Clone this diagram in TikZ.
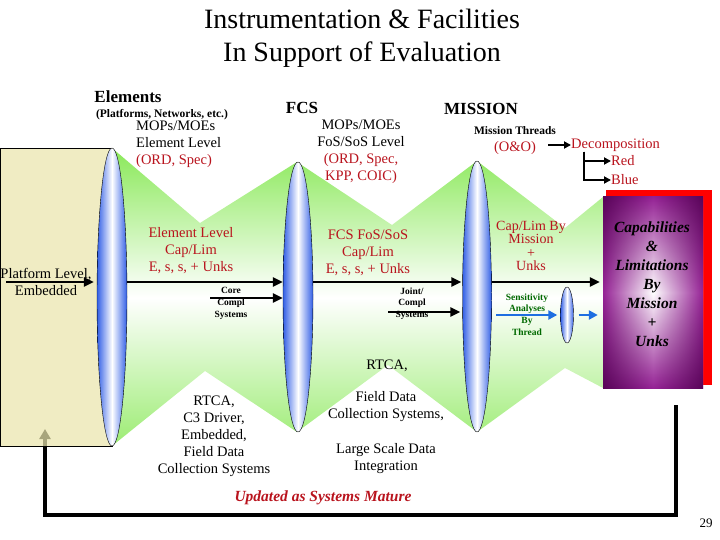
\documentclass[tikz,border=0pt]{standalone}
\usepackage{fontspec}
\setmainfont{Liberation Serif}
\usetikzlibrary{shapes.geometric,arrows.meta}
\definecolor{capred}{RGB}{185,20,30}
\definecolor{lensblue}{RGB}{50,95,230}
\definecolor{leafgreen}{RGB}{135,232,85}
\definecolor{tanfill}{RGB}{234,229,172}
\definecolor{capviolet}{RGB}{150,35,150}
\definecolor{darkgreen}{RGB}{0,105,0}
\definecolor{arrowblue}{RGB}{30,110,225}
\begin{document}
\begin{tikzpicture}[x=1pt,y=-1pt,
  txt/.style={font=\fontsize{14.5}{17}\selectfont, align=center, inner sep=0pt},
  redtxt/.style={txt, text=capred},
  headtxt/.style={font=\bfseries\fontsize{17}{20}\selectfont, inner sep=0pt},
  tiny/.style={font=\bfseries\fontsize{9.5}{11.7}\selectfont, align=center, inner sep=0pt},
  lens/.style={draw=black, ellipse, inner sep=0pt, left color=lensblue, right color=lensblue, middle color=white},
  bigarrow/.style={line width=2.8pt, -{Triangle[length=10pt,width=9pt]}},
  midarrow/.style={line width=2.3pt, -{Triangle[length=7pt,width=7pt]}}]
\useasboundingbox (0,0) rectangle (720,540);

% title
\node[font=\fontsize{28}{33}\selectfont, align=center] (title) at (362,38) {Instrumentation \& Facilities\\In Support of Evaluation};

% feedback loop, drawn first so the box tints its head
\coordinate (fbstart) at (676,405);
\coordinate (fbcorner) at (45,515);
\coordinate (fbend) at (45,429);
\draw[line width=3.2pt, -{Triangle[length=10pt,width=11pt]}] (fbstart) |- (fbcorner) -- (fbend);

% platform box
\node[draw=black, fill=tanfill, fill opacity=0.72, minimum width=112pt, minimum height=298pt, inner sep=0pt] (plat) at (56,297) {};

% green band
\begin{scope}
\clip (112,148) -- (200,223) -- (297,162) -- (392,225) -- (477,161) -- (565,228) -- (603,197)
  -- (603,388) -- (565,368) -- (477,432) -- (388,365) -- (297,432) -- (205,371) -- (112,446) -- cycle;
\begin{scope}[y=1pt]
\shade[top color=leafgreen, bottom color=leafgreen!85, middle color=white] (100,-145) rectangle (610,-450);
\end{scope}
\end{scope}

% capabilities box
\fill[red] (606,190) rectangle (712,385);
\begin{scope}[y=1pt, blend group=multiply]
\shade[left color=capviolet, right color=capviolet, middle color=white] (603,-197) rectangle (703,-388);
\shade[top color=capviolet, bottom color=capviolet, middle color=white] (603,-197) rectangle (703,-388);
\end{scope}
\node[minimum width=100pt, minimum height=191pt, inner sep=0pt] (cap) at (653,292.5) {};

% lenses
\node[lens, minimum width=30pt, minimum height=298pt] (e1) at (112,297) {};
\node[lens, minimum width=30pt, minimum height=270pt] (e2) at (298,297) {};
\node[lens, minimum width=29pt, minimum height=271pt] (e3) at (477,296.5) {};
\node[lens, minimum width=13pt, minimum height=56pt] (e4) at (567,315) {};

% main arrows
\coordinate (mainrow) at (0,282);
\draw[bigarrow] (6,282) -- ([xshift=-3pt]e1.west |- mainrow);
\draw[bigarrow] (e1.east |- mainrow) -- (e2.west |- mainrow);
\draw[bigarrow] (e2.east |- mainrow) -- ([xshift=-1pt]e3.west |- mainrow);
\draw[bigarrow] (e3.east |- mainrow) -- ([xshift=-3pt]cap.west |- mainrow);
\coordinate (corestart) at (210,298);
\draw[bigarrow] (corestart) -- (e2.west |- corestart);
\coordinate (jointstart) at (388,312);
\draw[bigarrow] (jointstart) -- ([xshift=-2pt]e3.west |- jointstart);
\coordinate (sensstart) at (496,315);
\draw[line width=2.8pt, arrowblue, -{Triangle[length=9pt,width=9pt]}] (sensstart) -- ([xshift=-3pt]e4.west);
\draw[line width=2.8pt, arrowblue, -{Triangle[length=9pt,width=9pt]}] ([xshift=5pt]e4.east) -- ([xshift=-5pt]cap.west |- e4.east);

% left column texts
\node[txt] (platlbl) at (46,281.5) {Platform Level,\\Embedded};
\node[headtxt] (elem) at (128,97) {Elements};
\node[font=\bfseries\fontsize{11.5}{14}\selectfont, inner sep=0pt] (elemsub) at (162,115) {(Platforms, Networks, etc.)};
\node[txt, align=left, anchor=west] (elemmop) at (136,144) {MOPs/MOEs\\Element Level\\\textcolor{capred}{(ORD, Spec)}};
\node[redtxt] (elemcap) at (191,250.5) {Element Level\\Cap/Lim\\E, s, s, + Unks};
\node[tiny] (core) at (231,303.5) {Core\\Compl\\Systems};

% FCS texts
\node[headtxt] (fcs) at (302,108) {FCS};
\node[txt] (fcsmop) at (361,151.5) {MOPs/MOEs\\FoS/SoS Level\\\textcolor{capred}{(ORD, Spec,}\\\textcolor{capred}{KPP, COIC)}};
\node[redtxt] (fcscap) at (368,252.5) {FCS FoS/SoS\\Cap/Lim\\E, s, s, + Unks};
\node[tiny] (joint) at (412,303.5) {Joint/\\Compl\\Systems};

% mission texts
\node[headtxt] (mission) at (481,109) {MISSION};
\node[font=\bfseries\fontsize{11.5}{14}\selectfont, inner sep=0pt] (threads) at (515,131) {Mission Threads};
\node[redtxt] (oando) at (515,148) {(O\&O)};
\node[redtxt, anchor=west] (decomp) at (571,145) {Decomposition};
\node[redtxt, anchor=west] (redlbl) at (611,161) {Red};
\node[redtxt, anchor=west] (bluelbl) at (611,180) {Blue};
\draw[midarrow] (548,145) -- (decomp.west);
\draw[midarrow] ([xshift=13pt]decomp.south west) |- (redlbl.west);
\draw[midarrow] ([xshift=13pt]decomp.south west) |- (bluelbl.west);
\node[redtxt, font=\fontsize{14}{13.3}\selectfont] (misscap) at (531,246) {Cap/Lim By\\Mission\\+\\Unks};
\node[tiny, text=darkgreen] (sens) at (527,314.5) {Sensitivity\\Analyses\\By\\Thread};

% capabilities text
\node[font=\bfseries\itshape\fontsize{15.5}{19}\selectfont, align=center, inner sep=0pt] (captxt) at (652,284) {Capabilities\\\&\\Limitations\\By\\Mission\\+\\Unks};

% lower texts
\node[txt] (rtca) at (387,366) {RTCA,};
\node[txt] (rtcalist) at (214,436.5) {RTCA,\\C3 Driver,\\Embedded,\\Field Data\\Collection Systems};
\node[txt] (fielddata) at (386,406.5) {Field Data\\Collection Systems,};
\node[txt] (largescale) at (386,458.5) {Large Scale Data\\Integration};
\node[font=\bfseries\itshape\fontsize{15.5}{18}\selectfont, text=capred, inner sep=0pt] (updated) at (323,498) {Updated as Systems Mature};
\node[font=\fontsize{13}{15}\selectfont, inner sep=0pt] (pagenum) at (706,523) {29};
\end{tikzpicture}
\end{document}
